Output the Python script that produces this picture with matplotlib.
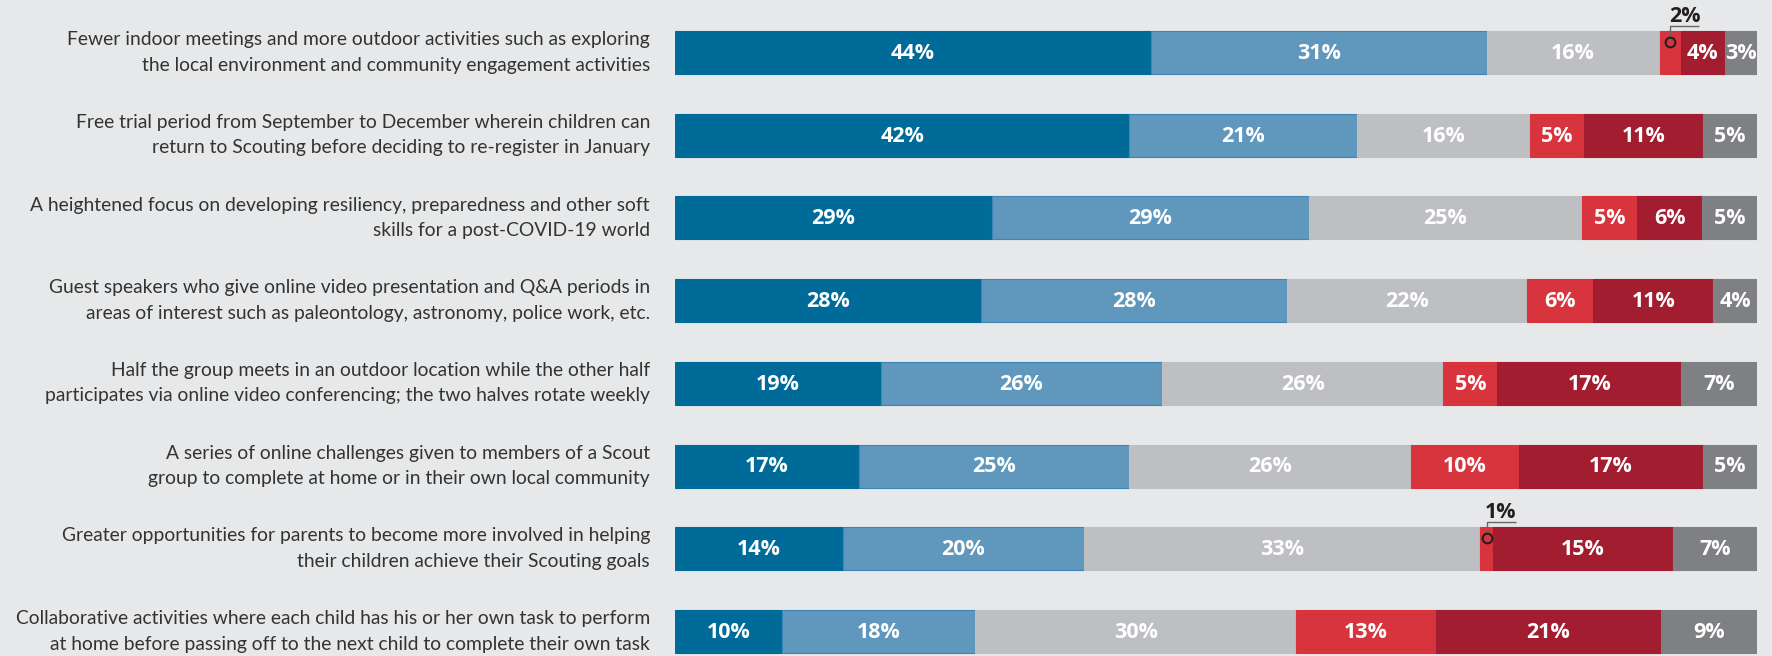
import numpy as np
import matplotlib
matplotlib.use("Agg")
import matplotlib.pyplot as plt

labels = [
    "Fewer indoor meetings and more outdoor activities such as exploring\nthe local environment and community engagement activities",
    "Free trial period from September to December wherein children can\nreturn to Scouting before deciding to re-register in January",
    "A heightened focus on developing resiliency, preparedness and other soft\nskills for a post-COVID-19 world",
    "Guest speakers who give online video presentation and Q&A periods in\nareas of interest such as paleontology, astronomy, police work, etc.",
    "Half the group meets in an outdoor location while the other half\nparticipates via online video conferencing; the two halves rotate weekly",
    "A series of online challenges given to members of a Scout\ngroup to complete at home or in their own local community",
    "Greater opportunities for parents to become more involved in helping\ntheir children achieve their Scouting goals",
    "Collaborative activities where each child has his or her own task to perform\nat home before passing off to the next child to complete their own task",
]

# six response categories, one list per segment
seg1 = [44, 42, 29, 28, 19, 17, 14, 10]
seg2 = [31, 21, 29, 28, 26, 25, 20, 18]
seg3 = [16, 16, 25, 22, 26, 26, 33, 30]
seg4 = [2, 5, 5, 6, 5, 10, 1, 13]
seg5 = [4, 11, 6, 11, 17, 17, 15, 21]
seg6 = [3, 5, 5, 4, 7, 5, 7, 9]

colors = ["#006b99", "#5f97bd", "#bdbfc2", "#d8343d", "#a21d2f", "#7f8083"]
edges = ["#006b99", "#3f86b8", "#bdbfc2", "#d8343d", "#a21d2f", "#7f8083"]
bg = "#e7e8e9"
label_font = ["Lato", "DejaVu Sans"]
num_font = ["Open Sans", "DejaVu Sans"]

W, H = 1772, 656
fig = plt.figure(figsize=(W / 100, H / 100), dpi=100, facecolor=bg)
left_px, right_px = 675, 1757
row0, row_step = 52.5, 82.7
ax = fig.add_axes([left_px / W, 0, (right_px - left_px) / W, 1])
ax.set_facecolor(bg)
ax.set_xlim(0, 100)
ax.set_ylim((H - row0) / row_step, -row0 / row_step)
ax.axis("off")

# pick a label size so the first line is about as wide as in the original
renderer = fig.canvas.get_renderer()
probe = fig.text(0, 0, labels[0].split("\n")[0], fontsize=15, family=label_font)
probe_w = probe.get_window_extent(renderer).width
probe.remove()
label_size = 15 * 585 / probe_w

px_x = 100 / (right_px - left_px)
px_y = 1 / row_step
bar_h = 43 * px_y

data = np.array([seg1, seg2, seg3, seg4, seg5, seg6], dtype=float)
small_thresh = 3

for i in range(len(labels)):
    vals = data[:, i]
    scaled = vals / vals.sum() * 100
    start = 0
    for j in range(6):
        w = scaled[j]
        ax.barh(i, w, left=start, height=bar_h, color=colors[j],
                edgecolor=edges[j], linewidth=0.8)
        cx = start + w / 2
        if vals[j] >= small_thresh:
            ax.text(cx, i + 0.01, f"{int(vals[j])}%", ha="center", va="center",
                    color="white", fontsize=15.5, fontweight="bold",
                    family=num_font)
        else:
            # callout above the bar
            top = i - bar_h / 2
            cy = top + 11 * px_y
            ly = top - 5 * px_y
            ax.plot([cx, cx, cx + 29 * px_x], [cy - 4 * px_y, ly, ly],
                    color="#666666", lw=1, solid_capstyle="butt")
            ax.plot(cx, cy, marker="o", ms=7, mfc="none", mec="#231f20", mew=1.5)
            ax.text(cx + 14 * px_x, ly - 4 * px_y, f"{int(vals[j])}%", ha="center",
                    va="baseline", color="#231f20", fontsize=15.5, fontweight="bold",
                    family=num_font)
        start += w
    ax.text(-25 * px_x, i, labels[i], ha="right", va="center", fontsize=label_size,
            color="#333333", linespacing=1.6, family=label_font)

fig.savefig("out.png", dpi=100, facecolor=bg)
